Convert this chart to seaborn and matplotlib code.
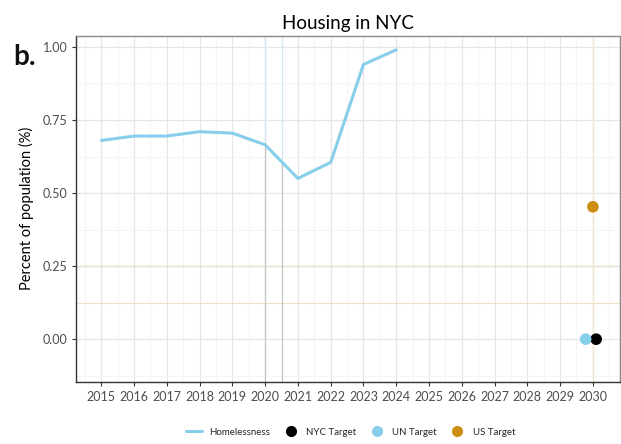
import matplotlib
matplotlib.use("Agg")
import matplotlib.pyplot as plt
import seaborn as sns
import pandas as pd
import numpy as np
from matplotlib.lines import Line2D
from matplotlib.ticker import MultipleLocator

# Homelessness share of NYC population by year
years = [2015, 2016, 2017, 2018, 2019, 2020, 2021, 2022, 2023, 2024]
homeless_pct = [0.68, 0.695, 0.695, 0.71, 0.705, 0.665, 0.55, 0.605, 0.94, 0.99]

# 2030 targets
target_names = ["NYC Target", "UN Target", "US Target"]
target_years = [2030, 2030, 2030]
target_values = [0.0, 0.0, 0.453]
target_offsets = [0.1, -0.22, 0.0]
target_colors = ["#000000", "#87CEEB", "#CC8E0E"]

year_ticks = list(range(2015, 2031))
y_ticks = [0.0, 0.25, 0.5, 0.75, 1.0]

line_color = "#87CEEB"

sns.set_theme(style="white")
plt.rcParams["font.family"] = ["Lato", "DejaVu Sans"]

fig = plt.figure(figsize=(6.21, 4.44), dpi=100)
ax = fig.add_axes([0.123, 0.14, 0.875, 0.78])

hdf = pd.DataFrame({"year": years, "pct": homeless_pct})
sns.lineplot(data=hdf, x="year", y="pct", ax=ax, color=line_color, lw=2.2, zorder=4)

tdf = pd.DataFrame({
    "name": target_names,
    "x": np.array(target_years) + np.array(target_offsets),
    "y": target_values,
})
sns.scatterplot(data=tdf, x="x", y="y", hue="name", palette=dict(zip(target_names, target_colors)),
                s=70, edgecolor="none", ax=ax, legend=False, zorder=5)

ax.set_xlim(2014.24, 2030.82)
ax.set_ylim(-0.146, 1.039)
ax.set_xticks(year_ticks)
ax.set_xticklabels([str(y) for y in year_ticks])
ax.set_yticks(y_ticks)
ax.set_yticklabels([f"{v:.2f}" for v in y_ticks])
ax.xaxis.set_minor_locator(MultipleLocator(0.5))
ax.yaxis.set_minor_locator(MultipleLocator(0.125))

ax.grid(which="major", color="#e6e6e6", lw=0.9, zorder=0)
ax.grid(which="minor", color="#f2f2f2", lw=0.6, zorder=0)
ax.set_axisbelow(True)

# reference guides
ax.axhline(0.25, color="#e9e2cf", lw=1.0, zorder=2)
ax.axhline(0.125, color="#efe2c2", lw=0.9, zorder=2)
ax.axvline(2030, color="#f1e6cf", lw=0.9, zorder=2)
for xv in [2020, 2020.5]:
    yc = np.interp(xv, years, homeless_pct)
    ax.plot([xv, xv], [yc, 1.039], color="#d3e6f3", lw=0.9, zorder=2)
    ax.plot([xv, xv], [-0.146, yc], color="#c4c4c4", lw=0.9, zorder=2)

for side in ["left", "bottom"]:
    ax.spines[side].set_color("#333333")
    ax.spines[side].set_linewidth(1.0)
for side in ["top", "right"]:
    ax.spines[side].set_color("#888888")
    ax.spines[side].set_linewidth(1.0)

ax.tick_params(axis="both", which="major", length=3, width=0.8, color="#333333",
               labelsize=9, labelcolor="#4d4d4d", bottom=True, left=True)
ax.tick_params(axis="both", which="minor", length=0)
ax.set_xlabel("")
ax.set_ylabel("Percent of population (%)", fontsize=10.5, color="black", labelpad=6)
ax.set_title("Housing in NYC", fontsize=13.5, color="black", pad=5)

fig.text(0.022, 1 - 65 / 444, "b.", fontsize=20, fontweight="bold", color="#111111",
         va="baseline")

handles = [Line2D([0], [0], color=line_color, lw=2.2)]
handles += [Line2D([0], [0], marker="o", color="none", markerfacecolor=c, markeredgecolor="none",
                   markersize=8) for c in target_colors]
labels = ["Homelessness"] + target_names
fig.legend(handles, labels, loc="center", bbox_to_anchor=(0.565, 0.027), ncol=4, frameon=False,
           fontsize=7, handlelength=1.6, handletextpad=0.8, columnspacing=1.3)

fig.savefig("out.png", dpi=100)
